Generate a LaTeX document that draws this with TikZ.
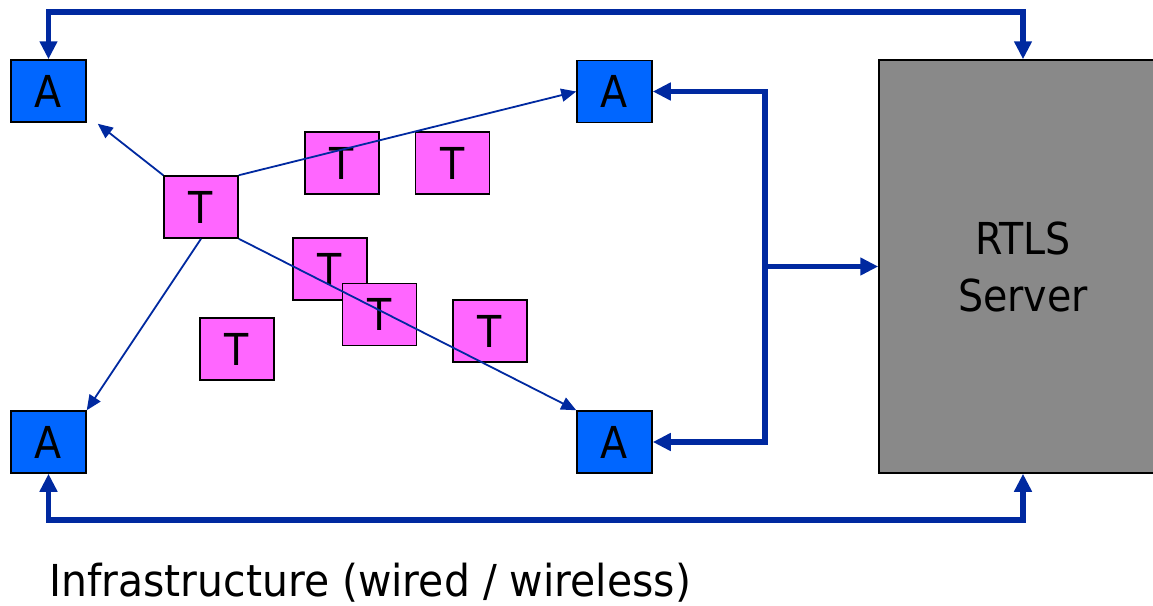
\documentclass[tikz,border=0pt]{standalone}
\usepackage{fontspec}
\setmainfont{DejaVu Sans}[FakeStretch=0.9]
\newfontfamily\capfont{DejaVu Sans}[FakeStretch=0.93]
\usetikzlibrary{arrows.meta,calc}
\definecolor{abox}{HTML}{0066FF}
\definecolor{tbox}{HTML}{FF66FF}
\definecolor{sbox}{HTML}{898989}
\definecolor{wire}{RGB}{0,41,160}
\tikzset{
  anchorbox/.style={draw=black,line width=1.5pt,fill=abox,minimum width=75pt,minimum height=62pt,inner sep=0pt,font=\fontsize{44}{57}\selectfont},
  tagbox/.style={draw=black,line width=1.5pt,fill=tbox,minimum width=74pt,minimum height=62pt,inner sep=0pt,font=\fontsize{44}{57}\selectfont},
  serverbox/.style={draw=black,line width=1.5pt,fill=sbox,minimum width=288pt,minimum height=413pt,inner sep=0pt,align=center,font=\fontsize{44}{57}\selectfont},
  bus/.style={draw=wire,line width=5.5pt,line join=miter,arrows={Triangle[length=18pt,width=17pt]-Triangle[length=18pt,width=17pt]}},
  busone/.style={draw=wire,line width=5.5pt,-{Triangle[length=18pt,width=17pt]}},
  radio/.style={draw=wire,line width=1.8pt,-{Triangle[length=15pt,width=13pt]}},
}
\begin{document}
\begin{tikzpicture}[x=1pt,y=-1pt]
\useasboundingbox (0,0) rectangle (1153,605);
% anchors
\node[anchorbox] (a1) at (48.5,91) {A};
\node[anchorbox] (a2) at (614.5,91.5) {A};
\node[anchorbox] (a3) at (48.5,442) {A};
\node[anchorbox] (a4) at (614.5,442) {A};
% server
\node[serverbox] (srv) at (1023,266.5) {RTLS\\Server};
% tags
\node[tagbox] (t0) at (201,207) {T};
\node[tagbox] (t1) at (342,163) {T};
\node[tagbox] (t2) at (452.5,163) {T};
\node[tagbox] (t3) at (330,269) {T};
\node[tagbox] (t4) at (379.5,314.5) {T};
\node[tagbox] (t5) at (490,331) {T};
\node[tagbox] (t6) at (237,349) {T};
% caption
\node[anchor=base west,inner sep=0pt,font=\capfont\fontsize{44}{57}\selectfont] (cap) at (49,596) {Infrastructure (wired / wireless)};
% helper coordinates
\coordinate (ty) at (0,12);
\coordinate (by) at (0,520);
\coordinate (vx) at (765,266.5);
\coordinate (a1tip) at ($(a1.south east)+(11,1)$);
% wired connections
\draw[bus] (a1.north) -- (a1.north |- ty) -| (srv.north);
\draw[bus] (a3.south) -- (a3.south |- by) -| (srv.south);
\draw[bus] (a2.east) -| (vx) |- (a4.east);
\draw[busone] (vx) -- (srv.west);
% radio links
\draw[radio] (t0.north west) -- (a1tip);
\draw[radio] (t0.north east) -- (a2.west);
\draw[radio] (t0.south east) -- (a4.north west);
\draw[radio] (t0.south) -- (a3.north east);
\end{tikzpicture}
\end{document}
